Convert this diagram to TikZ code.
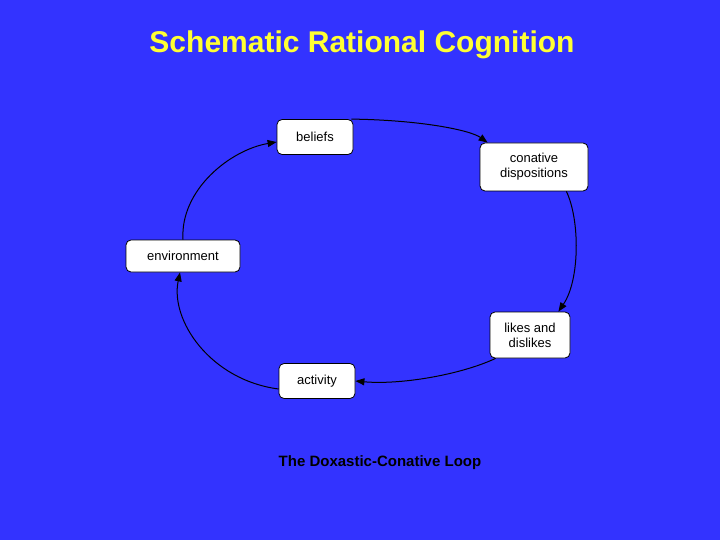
\documentclass[tikz,border=0pt]{standalone}
\usepackage{fontspec}
\setmainfont{Liberation Sans}
\usetikzlibrary{arrows.meta}
\definecolor{bg}{RGB}{51,51,255}
\definecolor{ttl}{RGB}{255,255,51}
\begin{document}
\begin{tikzpicture}[x=1pt,y=-1pt,
  box/.style={draw=black,fill=white,rounded corners=5pt,line width=0.8pt,align=center,font=\fontsize{13}{15}\selectfont,inner sep=0pt},
  arr/.style={-{Triangle[length=9pt,width=7pt]},line width=1pt,black}]
\fill[bg] (0,0) rectangle (720,540);
\useasboundingbox (0,0) rectangle (720,540);
\node[font=\fontsize{30}{34}\selectfont\bfseries,text=ttl] (title) at (362,45) {Schematic Rational Cognition};
\node[box,minimum width=76pt,minimum height=35pt] (bel) at (315,137) {beliefs};
\node[box,minimum width=108pt,minimum height=48pt] (con) at (534,167) {conative\\dispositions};
\node[box,minimum width=114pt,minimum height=32pt] (env) at (183,256) {environment};
\node[box,minimum width=80pt,minimum height=46pt] (lik) at (530,335) {likes and\\dislikes};
\node[box,minimum width=76pt,minimum height=35pt] (act) at (317,381) {activity};
\node[font=\fontsize{15}{18}\selectfont\bfseries] (cap) at (380,463) {The Doxastic-Conative Loop};
\draw[arr] ([xshift=-2pt]bel.north east) .. controls (420,120) and (470,130) .. ([xshift=8pt]con.north west);
\draw[arr] ([xshift=-22pt]con.south east) .. controls (580,220) and (580,280) .. ([xshift=-12pt]lik.north east);
\draw[arr] ([xshift=6pt]lik.south west) .. controls (460,375) and (400,385) .. (act.east);
\draw[arr] ([yshift=-8pt]act.west) .. controls (210,380) and (170,320) .. ([xshift=-3pt]env.south);
\draw[arr] (env.north) .. controls (180,190) and (230,150) .. ([yshift=-5pt]bel.west);
\end{tikzpicture}
\end{document}
